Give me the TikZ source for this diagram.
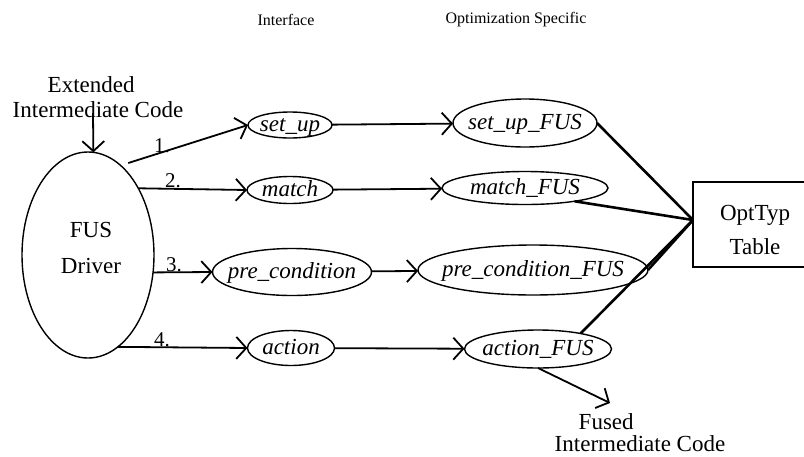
\documentclass[tikz,border=0pt]{standalone}
\usepackage{fontspec}
\setmainfont{Liberation Serif}
\usetikzlibrary{arrows.meta,shapes.geometric}
\newcommand{\mytxt}[1]{\makebox[0pt]{\raisebox{-0.3em}[0pt][0pt]{#1}}}
\begin{document}
\begin{tikzpicture}[x=1pt,y=-1pt,
  font=\fontsize{23}{25}\selectfont,
  ell/.style={draw, ellipse, line width=1.4pt, inner sep=0pt, outer sep=0pt,
    font=\fontsize{23}{25}\selectfont\itshape},
  arr/.style={line width=1.8pt, -{Straight Barb[length=10pt,width=22pt]}},
  tline/.style={line width=2.6pt},
  hdr/.style={font=\fontsize{16}{18}\selectfont},
  lbl/.style={font=\fontsize{21}{23}\selectfont, anchor=south, inner sep=0pt}]
\useasboundingbox (0,0) rectangle (804,456);

% headers
\node[hdr] (hif) at (286,20) {Interface};
\node[hdr] (hos) at (516,20) {Optimization Specific};

% driver
\node[ell, minimum width=132pt, minimum height=206pt] (drv) at (88,255) {};
\node[align=center, font=\fontsize{23}{36}\selectfont] (drvtxt) at (91,248) {FUS\\Driver};
\node[align=left, inner sep=0pt] (ext) at (98,97) {\hspace*{35pt}Extended\\Intermediate Code};
\coordinate (ein) at (93,113);

% interface ellipses
\node[ell, minimum width=84pt, minimum height=26pt] (su) at (290,125) {\mytxt{set\_up}};
\node[ell, minimum width=86pt, minimum height=27pt] (ma) at (290,190) {\mytxt{match}};
\node[ell, minimum width=159pt, minimum height=47pt] (pc) at (292,272) {\mytxt{pre\_condition}};
\node[ell, minimum width=87pt, minimum height=35pt] (ac) at (291,348) {\mytxt{action}};

% optimization specific ellipses
\node[ell, minimum width=144pt, minimum height=48pt] (suf) at (525,123) {\mytxt{set\_up\_FUS}};
\node[ell, minimum width=166pt, minimum height=33pt] (maf) at (525,188) {\mytxt{match\_FUS}};
\node[ell, minimum width=230pt, minimum height=50pt] (pcf) at (533,270) {\mytxt{pre\_condition\_FUS}};
\node[ell, minimum width=147pt, minimum height=38pt] (acf) at (538,349) {\mytxt{action\_FUS}};

% table
\node[draw, line width=2pt, minimum width=120pt, minimum height=85pt, inner sep=0pt] (tab) at (753,224.5) {};
\node[align=center, font=\fontsize{23}{34}\selectfont] (tabtxt) at (755,230) {OptTyp\\Table};
\coordinate (hub) at (693,220);

% fused output
\node[align=left, inner sep=0pt, font=\fontsize{23}{22}\selectfont] (fus) at (640,433) {\hspace*{24pt}Fused\\Intermediate Code};
\coordinate (fend) at (610,403);

% connectors
\draw[arr] (ein) -- (drv.87);
\draw[arr, shorten <=8pt] (drv.70) -- (su.west);
\draw[arr] (drv.53) -- (ma.west);
\draw[arr] (drv.-15) -- (pc.west);
\draw[arr] (drv.-72) -- (ac.west);

\node[lbl] (l1) at (162,153) {1.};
\node[lbl] (l2) at (173,188) {2.};
\node[lbl] (l3) at (174,272) {3.};
\node[lbl] (l4) at (162,347) {4.};

\draw[arr] (su) -- (suf);
\draw[arr] (ma) -- (maf);
\draw[arr] (pc) -- (pcf);
\draw[arr] (ac) -- (acf);

\draw[tline] (suf.east) -- (hub);
\draw[tline] (maf.-15) -- (hub);
\draw[tline] (pcf.east) -- (hub);
\draw[tline] (acf.20) -- (hub);

\draw[arr] (acf.south) -- (fend);
\end{tikzpicture}
\end{document}
